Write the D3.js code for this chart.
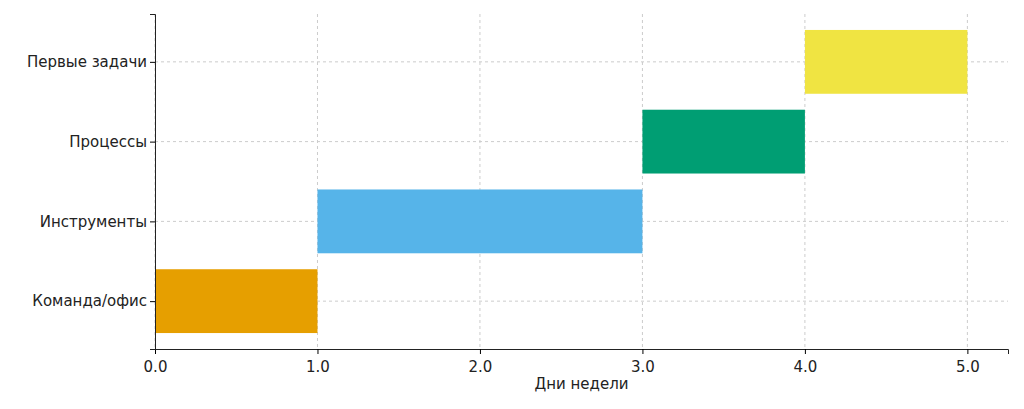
<!DOCTYPE html>
<html lang="ru">
<head>
<meta charset="UTF-8">
<script src="https://d3js.org/d3.v7.min.js"></script>
<style>
  body { margin: 0; background: #fff; }
  text { font-family: "DejaVu Sans", sans-serif; fill: #222; }
</style>
</head>
<body>
<svg id="chart" width="1024" height="409"></svg>
<script>
const tasks = ["Команда/офис", "Инструменты", "Процессы", "Первые задачи"];
const starts = [0, 1, 3, 4];
const durations = [1, 2, 1, 1];
const colors = ["#E69F00", "#56B4E9", "#009E73", "#F0E442"];
const xTicks = [0, 1, 2, 3, 4, 5];

const svg = d3.select("#chart");
const mLeft = 155, mRight = 1008, mTop = 14, mBottom = 349;

const x = d3.scaleLinear().domain([0, 5.25]).range([mLeft, mRight]);
const y = d3.scaleLinear().domain([-0.6, 3.6]).range([mBottom, mTop]);
const barH = y(0) - y(0.8);

// grid
svg.append("g").selectAll("line").data(xTicks).join("line")
  .attr("x1", d => x(d)).attr("x2", d => x(d))
  .attr("y1", mTop).attr("y2", mBottom)
  .attr("stroke", "#ccc").attr("stroke-dasharray", "3,3");
svg.append("g").selectAll("line").data(tasks).join("line")
  .attr("x1", mLeft).attr("x2", mRight)
  .attr("y1", (d, i) => y(i)).attr("y2", (d, i) => y(i))
  .attr("stroke", "#ccc").attr("stroke-dasharray", "3,3");

// bars
svg.append("g").selectAll("rect").data(tasks).join("rect")
  .attr("x", (d, i) => x(starts[i]))
  .attr("width", (d, i) => x(starts[i] + durations[i]) - x(starts[i]))
  .attr("y", (d, i) => y(i) - barH / 2)
  .attr("height", barH)
  .attr("fill", (d, i) => colors[i]);

// axes
const xAxis = svg.append("g").attr("transform", `translate(0,${mBottom})`)
  .call(d3.axisBottom(x).tickValues(xTicks).tickSizeOuter(0).tickSize(5));
xAxis.selectAll("text").style("font-size", "15px").attr("dy", "1em");
xAxis.select(".domain").attr("stroke", "#222");

const yAxis = svg.append("g").attr("transform", `translate(${mLeft},0)`)
  .call(d3.axisLeft(y).tickValues([0, 1, 2, 3]).tickFormat(i => tasks[i]).tickSizeOuter(0).tickSize(5));
yAxis.selectAll("text").style("font-size", "15px");
yAxis.select(".domain").attr("stroke", "#222");

svg.append("text").attr("x", (mLeft + mRight) / 2).attr("y", 389)
  .attr("text-anchor", "middle").style("font-size", "15px").text("Дни недели");
</script>
</body>
</html>
